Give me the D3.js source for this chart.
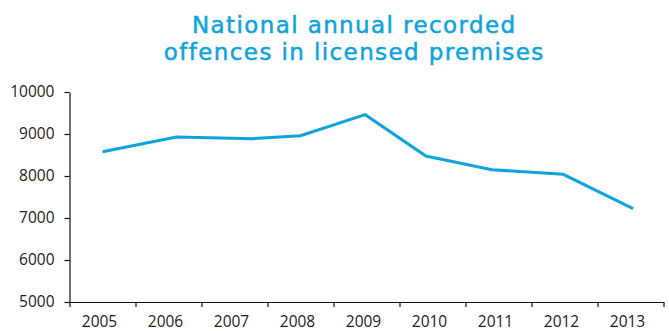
<!DOCTYPE html>
<html><head><meta charset="utf-8">
<script src="https://cdn.jsdelivr.net/npm/d3@7"></script>
<style>
html,body{margin:0;padding:0;background:#fff;}
svg{display:block;}
</style></head>
<body>
<svg id="c" width="669" height="331"></svg>
<script>
const titleLines = ["National annual recorded", "offences in licensed premises"];
const categories = ["2005","2006","2007","2008","2009","2010","2011","2012","2013"];
// plotted position of each point, in years (as placed on the original chart)
const pointYears = [2005.0, 2006.12, 2007.27, 2008.0, 2008.98, 2009.9, 2010.9, 2011.98, 2013.04];
const offences = [8579, 8929, 8888, 8960, 9460, 8476, 8150, 8040, 7221];
const yTicks = [5000, 6000, 7000, 8000, 9000, 10000];

const svg = d3.select("#c");
const plotL = 69.5, plotR = 663.5, plotT = 92, plotB = 302;
const blue = "#0fa3dc";
const fontAxis = "'Open Sans', 'DejaVu Sans', sans-serif";

const x = d3.scaleLinear().domain([2004.5, 2013.5]).range([plotL, plotR]);
const y = d3.scaleLinear().domain([5000, 10000]).range([plotB, plotT]);

// title
svg.append("g").selectAll("text").data(titleLines).join("text")
  .attr("x", 354.2).attr("y", (d,i) => 33.3 + i*26.7)
  .attr("text-anchor", "middle")
  .attr("font-family", "'DejaVu Sans', sans-serif")
  .attr("font-size", 23).attr("letter-spacing", 1.4).attr("fill", blue)
  .attr("stroke", blue).attr("stroke-width", 0.5)
  .text(d => d);

// y axis
const yAxis = d3.axisLeft(y).tickValues(yTicks).tickSize(5).tickSizeOuter(0).tickPadding(10).tickFormat(d3.format("d"));
const gy = svg.append("g").attr("transform", `translate(${plotL},0)`).call(yAxis);
gy.selectAll("path,line").attr("stroke", "#111").attr("stroke-width", 1.2);
gy.selectAll("text").attr("font-family", fontAxis).attr("font-size", 15.5).attr("fill", "#222");

// x axis: ticks at category boundaries
const bounds = d3.range(categories.length + 1).map(i => 2004.5 + i);
const xAxis = d3.axisBottom(x).tickValues(bounds).tickSize(5).tickSizeOuter(0).tickFormat("");
const gx = svg.append("g").attr("transform", `translate(0,${plotB})`).call(xAxis);
gx.selectAll("path,line").attr("stroke", "#111").attr("stroke-width", 1.2);

svg.append("g").selectAll("text").data(categories).join("text")
  .attr("x", d => x(+d) - 3).attr("y", 327)
  .attr("text-anchor", "middle")
  .attr("font-family", fontAxis).attr("font-size", 15.5).attr("fill", "#222")
  .text(d => d);

// line
const pts = offences.map((v,i) => [pointYears[i], v]);
svg.append("path").datum(pts)
  .attr("fill", "none").attr("stroke", blue).attr("stroke-width", 3)
  .attr("stroke-linejoin", "miter")
  .attr("d", d3.line().x(d => x(d[0])).y(d => y(d[1])));
</script>
</body></html>
